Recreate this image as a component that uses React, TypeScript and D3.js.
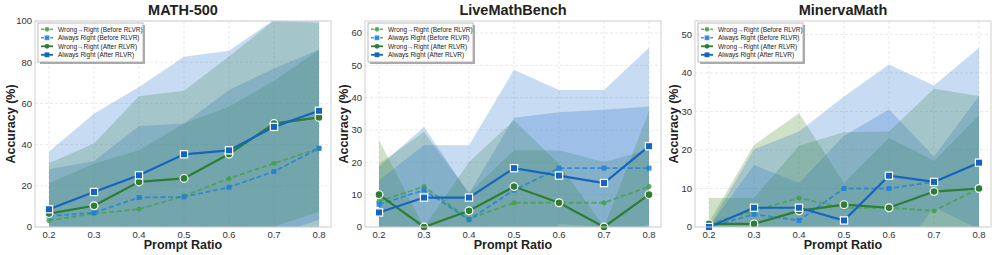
import * as d3 from 'd3';

const ratios = [0.2, 0.3, 0.4, 0.5, 0.6, 0.7, 0.8];

const seriesLabels = [
  'Wrong→Right (Before RLVR)',
  'Always Right (Before RLVR)',
  'Wrong→Right (After RLVR)',
  'Always Right (After RLVR)',
];

// MATH-500 (mean, std)
const mathWrBeforeMean = [3.2, 6.5, 8.7, 15.0, 23.6, 30.9, 38.2];
const mathWrBeforeStd = [18.0, 24.3, 28.6, 35.3, 34.8, 40.1, 47.8];
const mathArBeforeMean = [5.3, 7.0, 14.3, 14.6, 19.3, 26.9, 38.2];
const mathArBeforeStd = [22.7, 25.0, 34.7, 35.7, 47.2, 50.1, 47.8];
const mathWrAfterMean = [6.5, 10.3, 21.9, 23.6, 35.4, 50.2, 53.2];
const mathWrAfterStd = [24.4, 30.2, 41.6, 42.6, 47.4, 50.0, 45.8];
const mathArAfterMean = [8.6, 17.0, 25.1, 35.3, 37.2, 48.6, 56.4];
const mathArAfterStd = [28.0, 38.0, 42.9, 47.4, 48.3, 52.0, 53.0];

// LiveMathBench
const liveWrBeforeMean = [8.0, 12.5, 2.5, 7.5, 7.5, 7.5, 12.5];
const liveWrBeforeStd = [11.6, 16.9, 8.0, 16.2, 16.2, 12.6, 11.5];
const liveArBeforeMean = [7.0, 11.4, 2.3, 11.4, 18.2, 18.2, 18.2];
const liveArBeforeStd = [11.6, 19.5, 8.0, 22.4, 17.3, 18.1, 19.1];
const liveWrAfterMean = [10.0, 0, 5.0, 12.5, 7.5, 0, 10.0];
const liveWrAfterStd = [16.8, 0, 15.1, 20.5, 12.1, 0, 25.9];
const liveArAfterMean = [4.5, 9.1, 9.1, 18.2, 15.9, 13.6, 25.0];
const liveArAfterStd = [10.0, 16.2, 16.2, 30.4, 26.5, 28.8, 30.4];

// MinervaMath
const minWrBeforeMean = [0.8, 4.2, 7.5, 5.0, 5.0, 4.2, 10.0];
const minWrBeforeStd = [0.5, 17.1, 22.0, 6.4, 18.1, 13.0, 19.0];
const minArBeforeMean = [0, 3.3, 1.7, 10.0, 10.0, 11.7, 16.7];
const minArBeforeStd = [0, 12.8, 9.7, 13.7, 20.5, 6.6, 17.3];
const minWrAfterMean = [0.8, 0.8, 4.2, 5.8, 5.0, 9.2, 10.0];
const minWrAfterStd = [6.7, 6.7, 16.9, 18.8, 19.8, 26.7, 24.0];
const minArAfterMean = [0, 5.0, 5.0, 1.7, 13.3, 11.7, 16.7];
const minArAfterStd = [0, 15.2, 19.8, 32.2, 28.9, 25.0, 29.8];

const panels = [
  {
    title: 'MATH-500',
    series: [
      [mathWrBeforeMean, mathWrBeforeStd],
      [mathArBeforeMean, mathArBeforeStd],
      [mathWrAfterMean, mathWrAfterStd],
      [mathArAfterMean, mathArAfterStd],
    ],
  },
  {
    title: 'LiveMathBench',
    series: [
      [liveWrBeforeMean, liveWrBeforeStd],
      [liveArBeforeMean, liveArBeforeStd],
      [liveWrAfterMean, liveWrAfterStd],
      [liveArAfterMean, liveArAfterStd],
    ],
  },
  {
    title: 'MinervaMath',
    series: [
      [minWrBeforeMean, minWrBeforeStd],
      [minArBeforeMean, minArBeforeStd],
      [minWrAfterMean, minWrAfterStd],
      [minArAfterMean, minArAfterStd],
    ],
  },
];

const styles = [
  { color: '#43a047', band: '#4f8f30', dashed: true, marker: 'circle', after: false },
  { color: '#1e80d8', band: '#2f7bd0', dashed: true, marker: 'square', after: false },
  { color: '#2e7d32', band: '#4f8f30', dashed: false, marker: 'circle', after: true },
  { color: '#1565c0', band: '#2f7bd0', dashed: false, marker: 'square', after: true },
];

const W = 996;
const H = 255;
const plotLefts = [35, 365, 695];
const plotW = 296;
const plotTop = 21;
const plotBottom = 227;
const font = '"Liberation Sans", Arial, sans-serif';

const Marker = ({ kind, x, y, color, after }) => {
  const s = after ? 7.2 : 5;
  const stroke = after ? '#fff' : 'none';
  if (kind === 'circle') {
    return (
      <circle cx={x} cy={y} r={s / 2 + (after ? 0.3 : 0)} fill={color} stroke={stroke}
        strokeWidth={after ? 1.2 : 0} opacity={after ? 1 : 0.85} />
    );
  }
  return (
    <rect x={x - s / 2} y={y - s / 2} width={s} height={s} fill={color} stroke={stroke}
      strokeWidth={after ? 1.2 : 0} opacity={after ? 1 : 0.85} />
  );
};

const Legend = ({ left, top }) => {
  const w = 105;
  const h = 39;
  return (
    <g>
      <rect x={left + 2} y={top + 2} width={w} height={h} fill="#666" opacity={0.55} />
      <rect x={left} y={top} width={w} height={h} fill="#fff" stroke="#aaa" strokeWidth={0.8} />
      {seriesLabels.map((label, k) => {
        const ry = top + 6.3 + k * 8.5;
        const st = styles[k];
        return (
          <g key={label}>
            <line x1={left + 3} x2={left + 15} y1={ry} y2={ry} stroke={st.color}
              strokeWidth={st.after ? 1.8 : 1.5} strokeDasharray={st.dashed ? '3,1.6' : undefined}
              opacity={st.after ? 1 : 0.8} />
            {st.marker === 'circle' ? (
              <circle cx={left + 9} cy={ry} r={2.4} fill={st.color} opacity={st.after ? 1 : 0.85} />
            ) : (
              <rect x={left + 6.6} y={ry - 2.4} width={4.8} height={4.8} fill={st.color}
                opacity={st.after ? 1 : 0.85} />
            )}
            <text x={left + 20} y={ry + 2.3} fontSize={6.5} fill="#222" fontFamily={font}>
              {label}
            </text>
          </g>
        );
      })}
    </g>
  );
};

const Panel = ({ p, idx }) => {
  const left = plotLefts[idx];
  const right = left + plotW;
  const x = d3.scaleLinear().domain([0.2, 0.8]).range([left + 14, right - 12]);
  const maxUpper = d3.max(p.series, ([m, s]) => d3.max(m, (v, i) => v + s[i]));
  const y = d3.scaleLinear().domain([0, Math.min(100, maxUpper * 1.15)]).range([plotBottom, plotTop]);
  const yTicks = y.ticks(6);
  const clipId = `clip-${idx}`;
  const area = d3.area<number>().x((_, i) => x(ratios[i]));
  const line = d3.line<number>().x((_, i) => x(ratios[i])).y((v) => y(v));
  const digits = d3.max(yTicks, (t) => String(t).length);
  const cx = (left + right) / 2;

  return (
    <g>
      <defs>
        <clipPath id={clipId}>
          <rect x={left} y={plotTop} width={plotW} height={plotBottom - plotTop} />
        </clipPath>
      </defs>
      <rect x={left} y={plotTop} width={plotW} height={plotBottom - plotTop} fill="#fff" />
      {/* grid */}
      {yTicks.map((t) => (
        <line key={'gy' + t} x1={left} x2={right} y1={y(t)} y2={y(t)} stroke="#e3e3e3"
          strokeWidth={0.8} strokeDasharray="3,2" />
      ))}
      {ratios.map((t) => (
        <line key={'gx' + t} x1={x(t)} x2={x(t)} y1={plotTop} y2={plotBottom} stroke="#e3e3e3"
          strokeWidth={0.8} strokeDasharray="3,2" />
      ))}
      {/* mean ± std bands */}
      <g clipPath={`url(#${clipId})`}>
        {p.series.map(([m, s], k) => (
          <path key={'b' + k}
            d={area.y0((v, i) => y(v - s[i])).y1((v, i) => y(v + s[i]))(m)}
            fill={styles[k].band} opacity={0.27} />
        ))}
      </g>
      <g clipPath={`url(#${clipId})`}>
        {p.series.map(([m], k) => (
          <path key={'l' + k} d={line(m)} fill="none" stroke={styles[k].color}
            strokeWidth={styles[k].after ? 2.2 : 1.8}
            strokeDasharray={styles[k].dashed ? '5,2.6' : undefined}
            opacity={styles[k].after ? 1 : 0.75} />
        ))}
      </g>
      {p.series.map(([m], k) =>
        m.map((v, i) => (
          <Marker key={`m${k}-${i}`} kind={styles[k].marker} x={x(ratios[i])} y={y(v)}
            color={styles[k].color} after={styles[k].after} />
        ))
      )}
      <rect x={left} y={plotTop} width={plotW} height={plotBottom - plotTop} fill="none"
        stroke="#cfcfcf" strokeWidth={1} />
      {yTicks.map((t) => (
        <text key={'ty' + t} x={left - 3} y={y(t) + 3.3} textAnchor="end" fontSize={9.5}
          fill="#333" fontFamily={font}>{t}</text>
      ))}
      {ratios.map((t) => (
        <text key={'tx' + t} x={x(t)} y={plotBottom + 10.5} textAnchor="middle" fontSize={9.5}
          fill="#333" fontFamily={font}>{t.toFixed(1)}</text>
      ))}
      <text x={cx} y={15} textAnchor="middle" fontSize={14.5} fontWeight="bold" fill="#222"
        fontFamily={font}>{p.title}</text>
      <text x={cx} y={249} textAnchor="middle" fontSize={12.5} fontWeight="bold" fill="#222"
        fontFamily={font}>Prompt Ratio</text>
      <text transform={`translate(${left - 16 - 3 * digits + 4.5},${(plotTop + plotBottom) / 2}) rotate(-90)`}
        textAnchor="middle" fontSize={12.5} fontWeight="bold" fill="#222" fontFamily={font}>
        Accuracy (%)
      </text>
      <Legend left={left + 3} top={23} />
    </g>
  );
};

export default function App() {
  return (
    <>
      <style>{`body{margin:0}`}</style>
      <svg width={W} height={H} viewBox={`0 0 ${W} ${H}`} style={{ display: 'block' }}>
        <rect width={W} height={H} fill="#fff" />
        {panels.map((p, i) => (
          <Panel key={p.title} p={p} idx={i} />
        ))}
      </svg>
    </>
  );
}
